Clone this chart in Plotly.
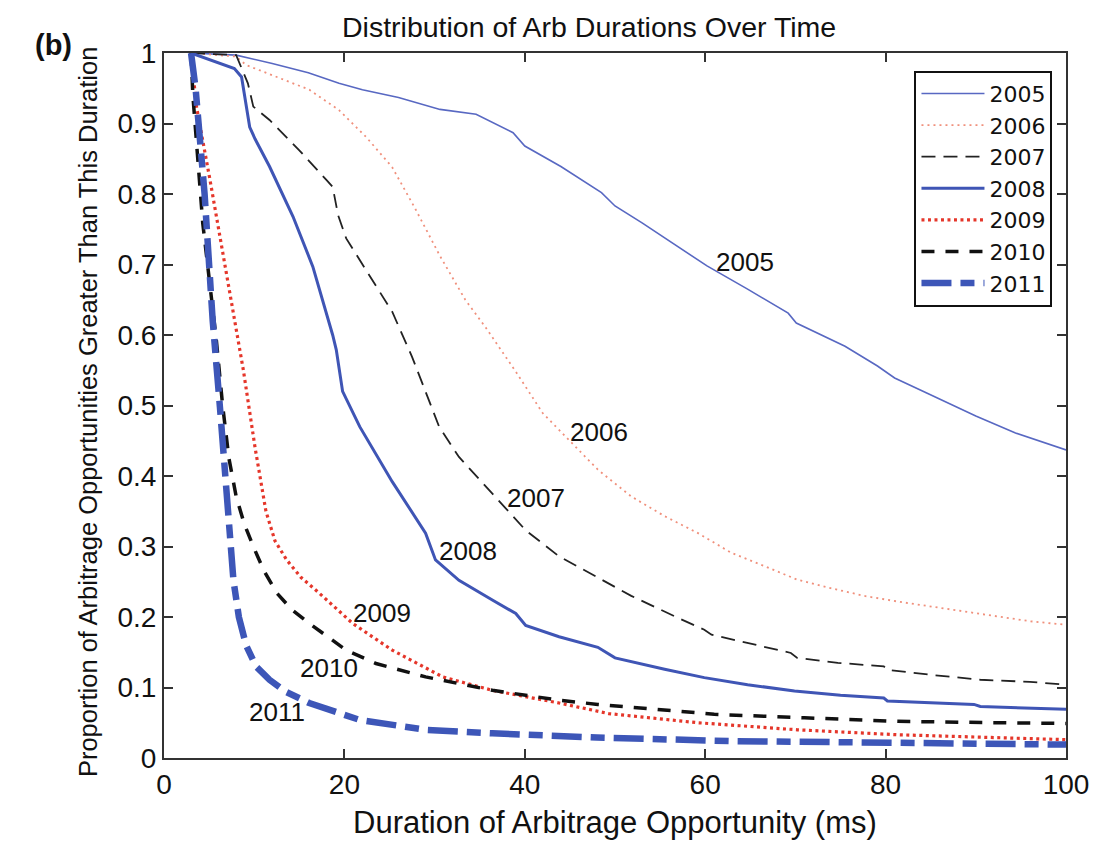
import plotly.graph_objects as go

# ---- data ----
x2005 = [3, 8, 12, 16, 19.4, 22, 26, 30.6, 34.6, 38.7, 40, 44, 48.5, 50, 53, 57.5, 60.2, 64.7, 69.2, 70.1, 75.5, 79.1, 81, 84.5, 90, 94.4, 100]
y2005 = [1.0, 0.997, 0.985, 0.972, 0.957, 0.948, 0.937, 0.920, 0.913, 0.887, 0.868, 0.839, 0.802, 0.783, 0.759, 0.721, 0.698, 0.665, 0.631, 0.617, 0.584, 0.556, 0.539, 0.518, 0.485, 0.461, 0.437]

x2006 = [3, 8, 9.1, 12.5, 16.1, 19.4, 22.4, 25.3, 27.9, 30.6, 33.4, 35.7, 39, 42, 45, 48.1, 51.8, 55.5, 59.2, 62.9, 66.6, 70.2, 73.9, 77.6, 81.3, 85, 88.7, 92.3, 96, 100]
y2006 = [1.0, 0.995, 0.983, 0.966, 0.948, 0.919, 0.881, 0.838, 0.778, 0.712, 0.650, 0.610, 0.548, 0.489, 0.450, 0.409, 0.371, 0.343, 0.319, 0.291, 0.272, 0.253, 0.241, 0.230, 0.222, 0.215, 0.208, 0.201, 0.194, 0.189]

x2007 = [3, 8, 9.3, 9.9, 11.7, 15, 18, 18.7, 19.3, 20.2, 22.4, 25.3, 27.5, 29.4, 30.5, 32.7, 35.7, 38, 40.1, 43.8, 48.1, 51.8, 56.6, 59.9, 60.7, 64.7, 69.5, 70.2, 74.7, 79.8, 80.2, 85, 90.5, 96, 100]
y2007 = [1.0, 0.997, 0.957, 0.924, 0.905, 0.862, 0.820, 0.810, 0.770, 0.737, 0.692, 0.633, 0.569, 0.508, 0.470, 0.427, 0.385, 0.352, 0.323, 0.286, 0.256, 0.230, 0.201, 0.182, 0.175, 0.163, 0.149, 0.142, 0.135, 0.130, 0.125, 0.118, 0.111, 0.108, 0.104]

x2008 = [3, 7.8, 8.6, 9.5, 10.1, 11.7, 14.3, 16.5, 18.7, 19.1, 19.8, 21.7, 25.3, 29, 30.1, 32.7, 36.4, 39, 40.1, 43.8, 48.1, 50, 55.5, 59.9, 64.7, 69.9, 75, 79.8, 80.2, 85, 89.8, 90.5, 95, 100]
y2008 = [1.0, 0.978, 0.966, 0.895, 0.878, 0.839, 0.768, 0.697, 0.600, 0.579, 0.520, 0.470, 0.392, 0.319, 0.281, 0.252, 0.224, 0.205, 0.188, 0.172, 0.157, 0.142, 0.126, 0.114, 0.104, 0.095, 0.089, 0.085, 0.081, 0.079, 0.076, 0.073, 0.071, 0.069]

x2009 = [3, 3.6, 5.1, 6.9, 8, 8.8, 10.1, 11.3, 12.3, 13.6, 15.2, 17.2, 20.9, 25.3, 30.9, 36.4, 43.8, 49.3, 59.2, 70.2, 81.3, 92.3, 100]
y2009 = [1.0, 0.924, 0.820, 0.687, 0.607, 0.550, 0.440, 0.350, 0.308, 0.281, 0.256, 0.234, 0.191, 0.153, 0.115, 0.096, 0.078, 0.063, 0.050, 0.040, 0.033, 0.029, 0.026]

x2010 = [3, 3.2, 4.3, 5.8, 6.5, 7.2, 8, 8.9, 9.9, 11.1, 12.5, 14.2, 16.1, 20.2, 23.5, 29, 36.4, 43.8, 48.1, 53, 61, 71, 81.3, 92.3, 100]
y2010 = [1.0, 0.940, 0.758, 0.593, 0.500, 0.425, 0.371, 0.332, 0.300, 0.265, 0.234, 0.210, 0.191, 0.153, 0.134, 0.115, 0.096, 0.082, 0.076, 0.071, 0.062, 0.057, 0.052, 0.050, 0.049]

x2011 = [3, 3.5, 4.5, 5.4, 6.2, 6.9, 7.7, 8.3, 9.1, 10.2, 11.7, 13.5, 16.1, 21.7, 29, 36.4, 48, 62.9, 77.6, 100]
y2011 = [1.0, 0.950, 0.800, 0.620, 0.498, 0.371, 0.252, 0.200, 0.160, 0.130, 0.111, 0.094, 0.078, 0.054, 0.040, 0.035, 0.029, 0.024, 0.022, 0.019]

years = ["2005", "2006", "2007", "2008", "2009", "2010", "2011"]
xs = [x2005, x2006, x2007, x2008, x2009, x2010, x2011]
ys = [y2005, y2006, y2007, y2008, y2009, y2010, y2011]

# inline label positions (data coords)
label_x = [64.4, 48.2, 41.2, 33.7, 24.2, 18.3, 12.5]
label_y = [0.704, 0.462, 0.369, 0.294, 0.206, 0.128, 0.065]

x_ticks = [0, 20, 40, 60, 80, 100]
y_ticks = [0, 0.1, 0.2, 0.3, 0.4, 0.5, 0.6, 0.7, 0.8, 0.9, 1]
y_ticklabels = ["0", "0.1", "0.2", "0.3", "0.4", "0.5", "0.6", "0.7", "0.8", "0.9", "1"]

# ---- styles ----
styles = [
    dict(color="#5868c2", width=1.6, dash="solid"),
    dict(color="#f0907c", width=1.8, dash="2px,4px"),
    dict(color="#222222", width=1.8, dash="14px,8px"),
    dict(color="#3f55b5", width=3, dash="solid"),
    dict(color="#e5362a", width=3.2, dash="3px,3.5px"),
    dict(color="#111111", width=3.5, dash="13px,11px"),
    dict(color="#3d56b8", width=6.5, dash="30px,9px,14px,9px"),
]

FONT = "Liberation Sans, Arial, Helvetica, sans-serif"

fig = go.Figure()
for yr, x, y, st in zip(years, xs, ys, styles):
    fig.add_trace(go.Scatter(x=x, y=y, mode="lines", name=yr, line=st))

annotations = []
for yr, lx, ly in zip(years, label_x, label_y):
    annotations.append(dict(x=lx, y=ly, xref="x", yref="y", text=yr, showarrow=False,
                            font=dict(family=FONT, size=26, color="#111")))

annotations += [
    dict(x=0.471, y=1.037, xref="paper", yref="paper", text="Distribution of Arb Durations Over Time",
         showarrow=False, font=dict(family=FONT, size=28.5, color="#111"), xanchor="center", yanchor="middle"),
    dict(x=-0.084, y=0.491, xref="paper", yref="paper",
         text="Proportion of Arbitrage Opportunities Greater Than This Duration",
         showarrow=False, textangle=-90, font=dict(family=FONT, size=25.5, color="#111"),
         xanchor="center", yanchor="middle"),
    dict(x=0.5, y=-0.091, xref="paper", yref="paper", text="Duration of Arbitrage Opportunity (ms)",
         showarrow=False, font=dict(family=FONT, size=31, color="#111"), xanchor="center", yanchor="middle"),
    dict(x=-0.123, y=1.011, xref="paper", yref="paper", text="<b>(b)</b>",
         showarrow=False, font=dict(family=FONT, size=29, color="#111"), xanchor="center", yanchor="middle"),
]

axis_common = dict(showline=True, linecolor="#333333", linewidth=2, mirror="ticks",
                   ticks="inside", ticklen=9, tickwidth=2, tickcolor="#333333",
                   showgrid=False, zeroline=False,
                   tickfont=dict(family=FONT, size=28, color="#111"))

fig.update_layout(
    width=1101, height=841,
    margin=dict(l=164, r=32, t=53, b=83),
    paper_bgcolor="white", plot_bgcolor="white",
    showlegend=True,
    legend=dict(x=0.985, y=0.975, xanchor="right", yanchor="top",
                bgcolor="white", bordercolor="#111111", borderwidth=2,
                font=dict(family="DejaVu Sans, Liberation Sans, sans-serif", size=22, color="#111"),
                itemwidth=63, tracegroupgap=0),
    annotations=annotations,
)
fig.update_xaxes(range=[0, 100], tickvals=x_ticks, ticktext=[str(v) for v in x_ticks], **axis_common)
fig.update_yaxes(range=[0, 1], tickvals=y_ticks, ticktext=y_ticklabels, **axis_common)

fig.write_html("out.html")
